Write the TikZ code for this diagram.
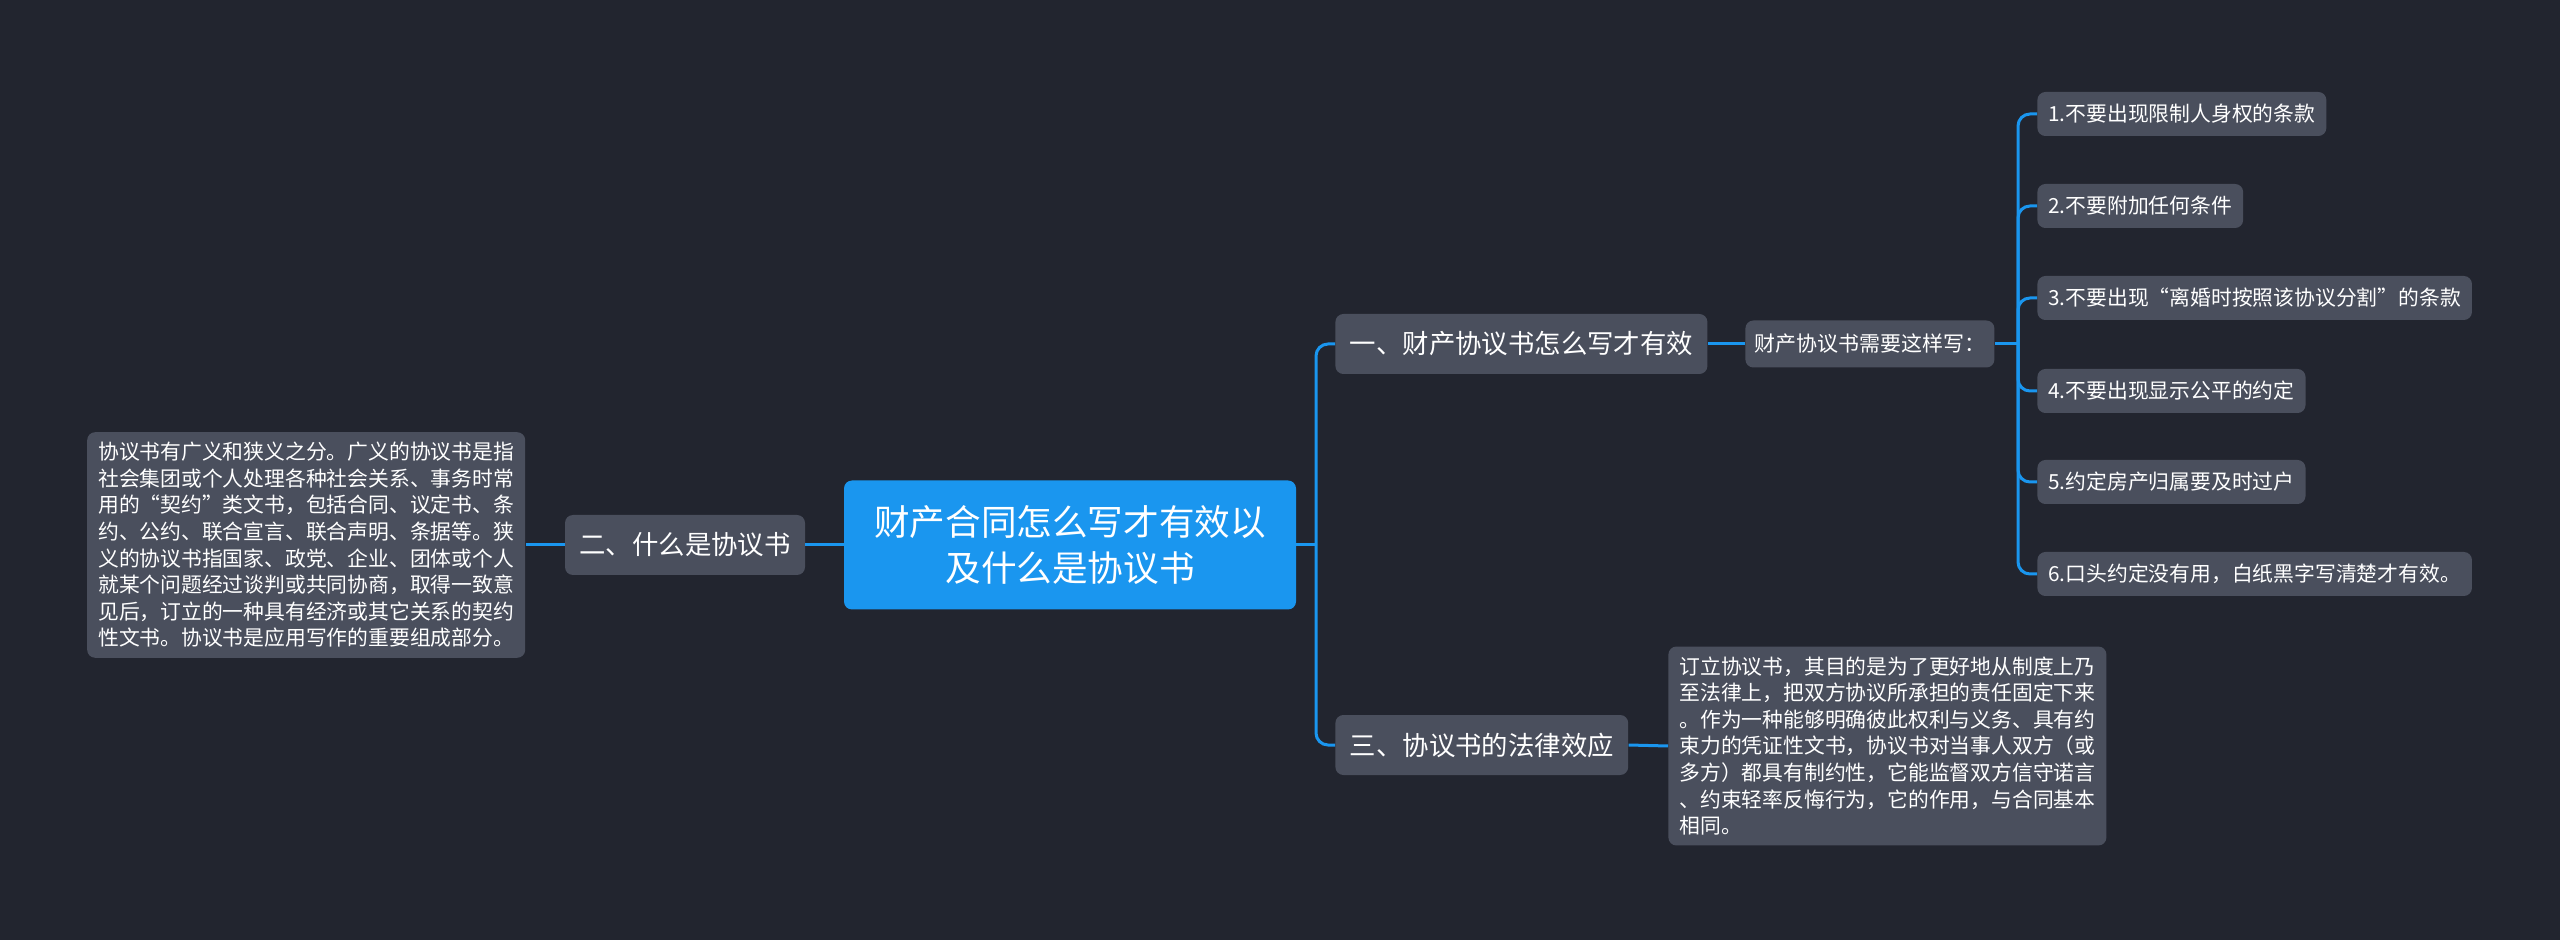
\documentclass[tikz,border=0pt]{standalone}
\usepackage{fontspec}
\newfontfamily\cjk{Noto Sans CJK SC}
\usetikzlibrary{positioning}
\definecolor{mapBg}{HTML}{22252F}
\definecolor{mapBlue}{HTML}{1A96EF}
\definecolor{mapGrey}{HTML}{4A4F5D}

\begin{document}
\begin{tikzpicture}[x=0.5pt, y=-0.5pt,
  root/.style={fill=mapBlue, text=white, rounded corners=4pt, align=center,
    minimum width=226pt, minimum height=64.5pt,
    font=\cjk\fontsize{17.8}{22.8}\selectfont},
  topic/.style={fill=mapGrey, text=white, rounded corners=4pt, inner xsep=7.2pt,
    minimum height=30pt, font=\cjk\fontsize{13.2}{16}\selectfont},
  subtopic/.style={fill=mapGrey, text=white, rounded corners=4pt, inner xsep=4.5pt,
    minimum height=23.5pt, font=\cjk\fontsize{10.5}{14}\selectfont},
  leaf/.style={fill=mapGrey, text=white, rounded corners=4pt, inner xsep=5.5pt,
    minimum height=22pt, anchor=west, font=\cjk\fontsize{10.4}{13}\selectfont},
  note/.style={fill=mapGrey, text=white, rounded corners=4pt, align=left,
    inner xsep=5.5pt, inner ysep=5pt, font=\cjk\fontsize{10.4}{13.3}\selectfont},
  link/.style={draw=mapBlue, line width=1.5pt, rounded corners=6pt}]

\fill[mapBg] (0,0) rectangle (2560,940);
\useasboundingbox (0,0) rectangle (2560,940);

\node[root] (main) at (1070,545) {财产合同怎么写才有效以\\及什么是协议书};

\node[topic] (what) at (685,545) {二、什么是协议书};
\node[note, left=19.5pt of what] (whatText)
  {协议书有广义和狭义之分。广义的协议书是指\\社会集团或个人处理各种社会关系、事务时常\\用的“契约”类文书，包括合同、议定书、条\\约、公约、联合宣言、联合声明、条据等。狭\\义的协议书指国家、政党、企业、团体或个人\\就某个问题经过谈判或共同协商，取得一致意\\见后，订立的一种具有经济或其它关系的契约\\性文书。协议书是应用写作的重要组成部分。};

\node[topic, anchor=west] (how) at (1335,344) {一、财产协议书怎么写才有效};
\node[subtopic, anchor=west] (howSub) at (1745,344) {财产协议书需要这样写：};

\node[leaf] (rule1) at (2037,114) {1.不要出现限制人身权的条款};
\node[leaf] (rule2) at (2037,206) {2.不要附加任何条件};
\node[leaf] (rule3) at (2037,298) {3.不要出现“离婚时按照该协议分割”的条款};
\node[leaf] (rule4) at (2037,391) {4.不要出现显示公平的约定};
\node[leaf] (rule5) at (2037,482) {5.约定房产归属要及时过户};
\node[leaf] (rule6) at (2037,574) {6.口头约定没有用，白纸黑字写清楚才有效。};

\node[topic, anchor=west] (law) at (1335,745) {三、协议书的法律效应};
\node[note, anchor=west] (lawText) at (1668,746)
  {订立协议书，其目的是为了更好地从制度上乃\\至法律上，把双方协议所承担的责任固定下来\\。作为一种能够明确彼此权利与义务、具有约\\束力的凭证性文书，协议书对当事人双方（或\\多方）都具有制约性，它能监督双方信守诺言\\、约束轻率反悔行为，它的作用，与合同基本\\相同。};

\coordinate (mainBus) at (1316,545);
\coordinate (ruleBus) at (2018,344);

\draw[link] (main.west) -- (what.east);
\draw[link] (what.west) -- (whatText.east);
\draw[link] (main.east) -- (mainBus);
\draw[link] (mainBus) |- (how.west);
\draw[link] (mainBus) |- (law.west);
\draw[link] (how.east) -- (howSub.west);
\draw[link] (law.east) -- (lawText.west);
\draw[link] (howSub.east) -- (ruleBus);
\foreach \i in {1,...,6}
  \draw[link] (ruleBus) |- (rule\i.west);

\end{tikzpicture}
\end{document}
